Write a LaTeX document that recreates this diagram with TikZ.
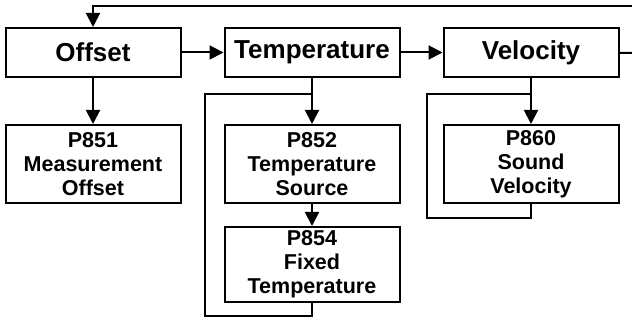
\documentclass[tikz,border=0pt]{standalone}
\usepackage{fontspec}
\setmainfont{Liberation Sans}
\usetikzlibrary{arrows.meta, positioning}

\begin{document}
\begin{tikzpicture}[
  x=1pt, y=-1pt,
  node distance=46pt and 42pt,
  topbox/.style={draw, line width=2pt, minimum width=175pt, minimum height=49pt,
    inner sep=2pt, font=\fontsize{26}{28}\selectfont\bfseries},
  parbox/.style={draw, line width=2pt, minimum width=175pt, minimum height=78pt,
    inner sep=1pt, align=center, font=\fontsize{21.5}{24}\selectfont\bfseries},
  ->, >={Triangle[length=14pt, width=14pt]}, line width=2pt
]
\useasboundingbox (0,0) rectangle (632,320);
\node[topbox] (offset) at (93,52.5) {Offset};
\node[topbox, right=of offset] (temp) {Temperature};
\node[topbox, right=of temp] (velo) {Velocity};
\node[parbox, below=of offset] (p851) {P851\\Measurement\\Offset};
\node[parbox, below=of temp] (p852) {P852\\Temperature\\Source};
\node[parbox, below=22pt of p852, minimum height=75pt] (p854) {P854\\Fixed\\Temperature};
\node[parbox, below=of velo] (p860) {P860\\Sound\\Velocity};
% edge of the picture and loop corners
\coordinate (topright) at (632,6);
\coordinate (rightend) at (632,53);
\path (temp.south) ++(0,16) coordinate (tjoin);
\path (velo.south) ++(0,16) coordinate (vjoin);
\coordinate (tcorner) at (205,316);
\coordinate (vcorner) at (427,218);
\draw (topright) -| (offset);
\draw (offset) -- (temp);
\draw (temp) -- (velo);
\draw[-] (velo) -- (rightend);
\draw (offset) -- (p851);
\draw (temp) -- (p852);
\draw (p852) -- (p854);
\draw (velo) -- (p860);
\draw[-] (p854.south) |- (tcorner) |- (tjoin);
\draw[-] (p860.south) |- (vcorner) |- (vjoin);
\end{tikzpicture}
\end{document}
